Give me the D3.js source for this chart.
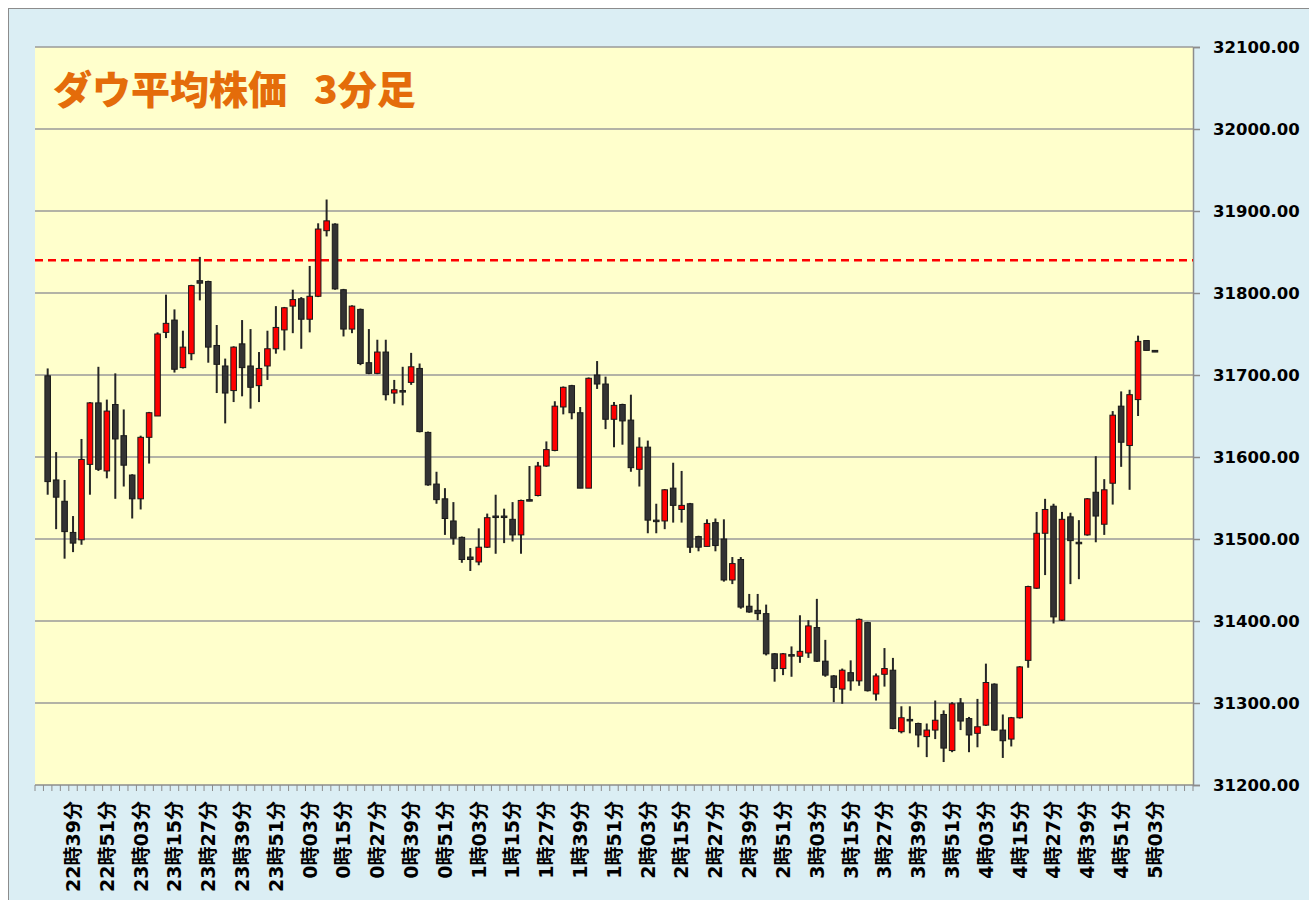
<!DOCTYPE html>
<html>
<head>
<meta charset="utf-8">
<script src="https://cdn.jsdelivr.net/npm/d3@7"></script>
<style>
  body { margin: 0; background: #ffffff; }
  svg { display: block; }
</style>
</head>
<body>
<div id="chart"></div>
<script>
// 3-minute bars, category axis (Excel style)
var times = [
  "22時27分","22時30分","22時33分","22時36分","22時39分","22時42分","22時45分","22時48分","22時51分","22時54分","22時57分",
  "23時00分","23時03分","23時06分","23時09分","23時12分","23時15分","23時18分","23時21分","23時24分","23時27分","23時30分",
  "23時33分","23時36分","23時39分","23時42分","23時45分","23時48分","23時51分","23時54分","23時57分",
  "0時00分","0時03分","0時06分","0時09分","0時12分","0時15分","0時18分","0時21分","0時24分","0時27分","0時30分",
  "0時33分","0時36分","0時39分","0時42分","0時45分","0時48分","0時51分","0時54分","0時57分",
  "1時00分","1時03分","1時06分","1時09分","1時12分","1時15分","1時18分","1時21分","1時24分","1時27分","1時30分",
  "1時33分","1時36分","1時39分","1時42分","1時45分","1時48分","1時51分","1時54分","1時57分",
  "2時00分","2時03分","2時06分","2時09分","2時12分","2時15分","2時18分","2時21分","2時24分","2時27分","2時30分",
  "2時33分","2時36分","2時39分","2時42分","2時45分","2時48分","2時51分","2時54分","2時57分",
  "3時00分","3時03分","3時06分","3時09分","3時12分","3時15分","3時18分","3時21分","3時24分","3時27分","3時30分",
  "3時33分","3時36分","3時39分","3時42分","3時45分","3時48分","3時51分","3時54分","3時57分",
  "4時00分","4時03分","4時06分","4時09分","4時12分","4時15分","4時18分","4時21分","4時24分","4時27分","4時30分",
  "4時33分","4時36分","4時39分","4時42分","4時45分","4時48分","4時51分","4時54分","4時57分",
  "5時00分","5時03分","5時06分","5時09分","5時12分","5時15分"
]

// labels shown every 4th bar
var shownLabels = [
  "22時39分","22時51分","23時03分","23時15分","23時27分","23時39分","23時51分",
  "0時03分","0時15分","0時27分","0時39分","0時51分","1時03分","1時15分","1時27分","1時39分","1時51分",
  "2時03分","2時15分","2時27分","2時39分","2時51分","3時03分","3時15分","3時27分","3時39分","3時51分",
  "4時03分","4時15分","4時27分","4時39分","4時51分","5時03分"
]

// OHLC values (null = no trade in that bar)
var openVals = [null,
  31699,31572,31546,31508,31499,31591,31666,31583,31664,31626,31578,31549,31624,31650,31752,31767,31709,31726,31815,31814,
  31736,31711,31681,31738,31711,31687,31711,31732,31755,31784,31793,31768,31796,31876,31884,31804,31756,31780,31715,31702,
  31728,31678,31681,31691,31708,31630,31567,31549,31522,31502,31478,31472,31490,31528,31528,31524,31505,31548,31553,31589,
  31608,31661,31687,31654,31562,31700,31689,31646,31664,31645,31585,31612,31523,31522,31562,31536,31543,31503,31491,31520,
  31500,31450,31475,31418,31413,31409,31360,31342,31359,31357,31361,31392,31351,31333,31317,31337,31327,31398,31311,31335,
  31340,31265,31280,31275,31259,31267,31286,31242,31300,31281,31263,31273,31323,31267,31256,31282,31352,31440,31507,31540,
  31401,31527,31496,31505,31557,31518,31568,31662,31614,31670,31742,31730,
  null,null,null,null]
var highVals = [null,
  31708,31606,31572,31528,31622,31667,31710,31670,31702,31658,31579,31626,31655,31752,31798,31780,31754,31810,31844,31815,
  31761,31720,31735,31767,31756,31728,31754,31784,31783,31804,31795,31833,31885,31914,31885,31805,31785,31781,31756,31743,
  31743,31694,31710,31727,31714,31631,31582,31562,31545,31503,31489,31513,31531,31554,31537,31545,31548,31589,31594,31619,
  31668,31686,31688,31661,31697,31717,31698,31667,31665,31676,31624,31620,31543,31561,31593,31583,31544,31504,31524,31525,
  31524,31478,31478,31433,31433,31420,31361,31361,31369,31407,31401,31427,31377,31334,31342,31352,31403,31399,31336,31367,
  31355,31296,31296,31276,31275,31303,31291,31301,31306,31283,31305,31348,31324,31286,31283,31345,31443,31533,31549,31543,
  31533,31532,31523,31550,31601,31573,31656,31680,31682,31748,31742,31730,
  null,null,null,null]
var lowVals = [null,
  31554,31512,31476,31484,31493,31554,31583,31574,31549,31564,31525,31536,31592,31650,31745,31703,31708,31718,31791,31715,
  31678,31641,31667,31674,31659,31667,31694,31726,31730,31751,31732,31752,31795,31869,31804,31747,31751,31712,31701,31701,
  31669,31665,31663,31688,31630,31565,31543,31505,31493,31471,31461,31468,31489,31482,31495,31497,31482,31546,31552,31588,
  31607,31652,31646,31562,31562,31683,31634,31612,31615,31582,31564,31507,31507,31512,31520,31520,31483,31485,31491,31485,
  31448,31445,31415,31410,31401,31358,31326,31334,31332,31349,31355,31350,31332,31301,31299,31315,31321,31314,31303,31320,
  31268,31263,31263,31246,31234,31256,31228,31240,31267,31240,31246,31272,31266,31233,31247,31281,31343,31439,31456,31397,
  31400,31445,31451,31504,31496,31505,31542,31588,31560,31650,31730,31728,
  null,null,null,null]
var closeVals = [null,
  31570,31551,31509,31495,31597,31666,31585,31656,31622,31590,31549,31624,31654,31750,31763,31707,31734,31809,31812,31734,
  31713,31678,31734,31709,31685,31708,31732,31758,31782,31792,31768,31796,31878,31888,31805,31756,31784,31714,31702,31728,
  31676,31682,31680,31710,31631,31566,31548,31525,31501,31475,31475,31490,31526,31527,31527,31505,31547,31547,31589,31609,
  31662,31685,31654,31562,31696,31689,31646,31663,31644,31587,31612,31523,31522,31560,31541,31541,31490,31490,31519,31492,
  31450,31470,31417,31411,31409,31360,31342,31360,31358,31363,31394,31351,31334,31319,31340,31327,31402,31315,31333,31342,
  31269,31282,31279,31261,31267,31279,31245,31299,31278,31261,31271,31325,31267,31254,31282,31344,31442,31507,31536,31405,
  31524,31498,31495,31549,31528,31560,31651,31618,31676,31741,31730,31728,
  null,null,null,null]

var yTicks = [31200,31300,31400,31500,31600,31700,31800,31900,32000,32100]
var resistanceLevel = 31840
var titleMain = "ダウ平均株価"
var titleSub = "3分足"

var width = 1309
var height = 900
var plot = {left: 35, right: 1193, top: 47, bottom: 785}

var bars = times.map(function(t, i){
  return {t: t, o: openVals[i], h: highVals[i], l: lowVals[i], c: closeVals[i]}
}).filter(function(d){ return d.o !== null })

var svg = d3.select("#chart")
            .append("svg")
            .attr("width", width)
            .attr("height", height)

// chart area background + frame
svg.append("rect")
  .attr("x", 0).attr("y", 0)
  .attr("width", width).attr("height", height)
  .attr("fill", "#ffffff")

svg.append("rect")
  .attr("x", 8.5).attr("y", 8.5)
  .attr("width", width + 20).attr("height", height + 20)
  .attr("fill", "#dbeef4")
  .attr("stroke", "#8c8c8c")
  .attr("stroke-width", 1)

// scales
var xscale = d3.scaleBand()
  .domain(times)
  .range([plot.left, plot.right])
  .padding(0)

var yscale = d3.scaleLinear()
  .domain([31200, 32100])
  .range([plot.bottom, plot.top])

// plot area
svg.append("rect")
  .attr("x", plot.left).attr("y", plot.top)
  .attr("width", plot.right - plot.left)
  .attr("height", plot.bottom - plot.top)
  .attr("fill", "#ffffcc")

// gridlines
svg.append("g")
  .selectAll("line")
  .data(yTicks.slice(1))
  .enter()
  .append("line")
  .attr("x1", plot.left).attr("x2", plot.right)
  .attr("y1", function(d){ return yscale(d) })
  .attr("y2", function(d){ return yscale(d) })
  .attr("stroke", "#9a9a9a")
  .attr("stroke-width", 1.5)

// y axis on the right
var yaxis = d3.axisRight(yscale)
  .tickValues(yTicks)
  .tickFormat(d3.format(".2f"))
  .tickSize(7)
  .tickPadding(13)

var yg = svg.append("g")
  .attr("transform", "translate(" + plot.right + ",0)")
  .call(yaxis)
yg.select(".domain").attr("stroke", "#8c8c8c").attr("stroke-width", 1.5)
yg.selectAll(".tick line").attr("stroke", "#8c8c8c").attr("stroke-width", 1.5)
yg.selectAll(".tick text")
  .attr("fill", "#000")
  .style("font-family", "'DejaVu Sans', sans-serif")
  .style("font-weight", "bold")
  .style("font-size", "16.5px")

// x axis: labels every 4th bar, tick marks between every category
var xaxis = d3.axisBottom(xscale)
  .tickValues(shownLabels)
  .tickSize(0)

var xg = svg.append("g")
  .attr("transform", "translate(0," + plot.bottom + ")")
  .call(xaxis)
xg.select(".domain").remove()
xg.selectAll(".tick text")
  .attr("transform", "rotate(-90)")
  .attr("text-anchor", "end")
  .attr("x", -16)
  .attr("y", 0)
  .attr("dy", "0.36em")
  .attr("fill", "#000")
  .style("font-family", "'DejaVu Sans', 'Noto Sans CJK JP', sans-serif")
  .style("font-weight", "bold")
  .style("font-size", "19px")

svg.append("line")
  .attr("x1", plot.left).attr("x2", plot.right)
  .attr("y1", plot.bottom).attr("y2", plot.bottom)
  .attr("stroke", "#8c8c8c")
  .attr("stroke-width", 1.5)

svg.append("g")
  .selectAll("line")
  .data(times.concat(["end"]))
  .enter()
  .append("line")
  .attr("x1", function(d){ return d === "end" ? plot.right : xscale(d) })
  .attr("x2", function(d){ return d === "end" ? plot.right : xscale(d) })
  .attr("y1", plot.bottom)
  .attr("y2", plot.bottom + 6)
  .attr("stroke", "#8c8c8c")
  .attr("stroke-width", 1)

// resistance line
svg.append("line")
  .attr("x1", plot.left).attr("x2", plot.right)
  .attr("y1", yscale(resistanceLevel)).attr("y2", yscale(resistanceLevel))
  .attr("stroke", "#ff0000")
  .attr("stroke-width", 2.5)
  .attr("stroke-dasharray", "8,5")

// candles
var bw = xscale.bandwidth()
var bodyW = bw * 0.66
var candle = svg.append("g")
  .selectAll("g")
  .data(bars)
  .enter()
  .append("g")

candle.append("line")
  .attr("x1", function(d){ return xscale(d.t) + bw / 2 })
  .attr("x2", function(d){ return xscale(d.t) + bw / 2 })
  .attr("y1", function(d){ return yscale(d.h) })
  .attr("y2", function(d){ return yscale(d.l) })
  .attr("stroke", "#262626")
  .attr("stroke-width", 2)

candle.append("rect")
  .attr("x", function(d){ return xscale(d.t) + (bw - bodyW) / 2 })
  .attr("y", function(d){ return yscale(Math.max(d.o, d.c)) })
  .attr("width", bodyW)
  .attr("height", function(d){ return Math.max(1.5, Math.abs(yscale(d.o) - yscale(d.c))) })
  .attr("fill", function(d){ return d.c > d.o ? "#ff0000" : "#333333" })
  .attr("stroke", "#1a1a1a")
  .attr("stroke-width", 1)

// title
var title = svg.append("text")
  .attr("y", 104)
  .attr("fill", "#e46c0a")
  .style("font-family", "'Noto Sans CJK JP', sans-serif")
  .style("font-weight", "900")
  .style("font-size", "39px")
title.append("tspan").attr("x", 53).text(titleMain)
title.append("tspan").attr("x", 314).text(titleSub)
</script>
</body>
</html>
